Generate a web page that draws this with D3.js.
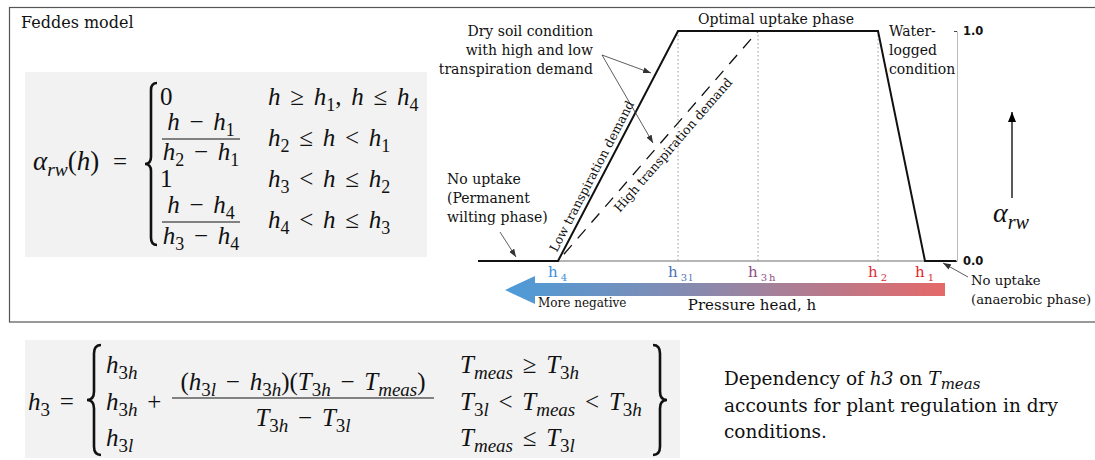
<!DOCTYPE html>
<html><head><meta charset="utf-8">
<script src="https://cdn.jsdelivr.net/npm/d3@7"></script>
<style>
html,body{margin:0;padding:0;background:#fff;}
svg{display:block;}
text{white-space:pre;}
</style></head><body>
<svg id="fig" width="1095" height="460"></svg>
<script>
// Feddes root-water-uptake reduction function, schematic pressure-head axis
const pressureHeads   = [0, 16, 40, 80, 89.4, 95.6];   // left end, h4, h3l, h2, h1, right end
const alphaLowDemand  = [0, 0, 1, 1, 0, 0];
const highDemandHeads = [16, 56];                        // h4 -> h3h
const alphaHighDemand = [0, 1];
const thresholdNames  = ["h", "h", "h", "h", "h"];
const thresholdSubs   = ["4", "3l", "3h", "2", "1"];
const thresholdHeads  = [16, 40, 56, 80, 89.4];
const thresholdColors = ["#3b8fdc", "#4c72b6", "#8a4d86", "#d92b3a", "#e5222c"];
const dottedHeads     = [40, 56, 80];
const alphaTicks      = [0, 1];
const alphaTickLabels = ["0.0", "1.0"];

const MATH  = "'Liberation Serif', 'Times New Roman', serif";
const SERIF = "'DejaVu Serif', serif";
const SANSB = "'DejaVu Sans', sans-serif";

const svg = d3.select("#fig");

const defs = svg.append("defs");
defs.append("marker").attr("id", "ah").attr("markerUnits", "userSpaceOnUse")
  .attr("markerWidth", 8).attr("markerHeight", 6).attr("refX", 8).attr("refY", 3)
  .attr("orient", "auto").append("path").attr("d", "M0,0 L8,3 L0,6 Z").attr("fill", "#333");
defs.append("marker").attr("id", "ahBig").attr("markerUnits", "userSpaceOnUse")
  .attr("markerWidth", 10).attr("markerHeight", 8).attr("refX", 10).attr("refY", 4)
  .attr("orient", "auto").append("path").attr("d", "M0,0 L10,4 L0,8 Z").attr("fill", "#000");
const grad = defs.append("linearGradient").attr("id", "headGrad")
  .attr("x1", "0%").attr("x2", "100%").attr("y1", "0%").attr("y2", "0%");
grad.append("stop").attr("offset", "0%").attr("stop-color", "#4c9bd8");
grad.append("stop").attr("offset", "45%").attr("stop-color", "#8a89ad");
grad.append("stop").attr("offset", "100%").attr("stop-color", "#e56969");

// ---------- math text helper ----------
function mathText(parent, x, y, src, size, opts = {}) {
  const t = parent.append("text").attr("x", x).attr("y", y)
    .attr("font-family", opts.family || MATH).attr("font-size", size)
    .attr("text-anchor", opts.anchor || "start").attr("fill", opts.color || "#111")
    .attr("word-spacing", opts.ws != null ? opts.ws : 3.5);
  const toks = [];
  for (let i = 0; i < src.length;) {
    const c = src[i];
    if (c === "_") {
      let g;
      if (src[i + 1] === "{") { const j = src.indexOf("}", i); g = src.slice(i + 2, j); i = j + 1; }
      else { g = src[i + 1]; i += 2; }
      for (const ch of g) toks.push({ s: ch, it: /[a-zA-Z]/.test(ch), sub: true });
      continue;
    }
    toks.push({ s: c, it: /[a-zA-Zα]/.test(c), sub: false });
    i++;
  }
  const groups = [];
  toks.forEach(k => {
    const last = groups[groups.length - 1];
    if (last && last.it === k.it && last.sub === k.sub) last.s += k.s;
    else groups.push({ ...k });
  });
  const shift = size * (opts.subShift || 0.24);
  let cur = false;
  groups.forEach(g => {
    const ts = t.append("tspan").text(g.s).attr("font-style", g.it ? "italic" : "normal");
    if (g.sub) ts.attr("font-size", size * (opts.subScale || 0.72));
    if (g.sub && !cur) ts.attr("dy", shift);
    if (!g.sub && cur) ts.attr("dy", -shift);
    cur = g.sub;
  });
  return t;
}
function fraction(parent, cx, yNum, yBar, yDen, num, den, size, halfW, opts = {}) {
  mathText(parent, cx, yNum, num, size, { anchor: "middle", ...opts });
  mathText(parent, cx, yDen, den, size, { anchor: "middle", ...opts });
  parent.append("line").attr("x1", cx - halfW).attr("x2", cx + halfW).attr("y1", yBar).attr("y2", yBar)
    .attr("stroke", "#111").attr("stroke-width", 1.2);
}
// curly brace: ends at xEnds, cusp at xCusp
function brace(parent, xEnds, xCusp, y0, y1) {
  const xm = (xEnds + xCusp) / 2, ym = (y0 + y1) / 2, q = Math.abs(xEnds - xCusp) * 0.6;
  const d = `M${xEnds},${y0} Q${xm},${y0} ${xm},${y0 + q} L${xm},${ym - q} Q${xm},${ym} ${xCusp},${ym}` +
            ` Q${xm},${ym} ${xm},${ym + q} L${xm},${y1 - q} Q${xm},${y1} ${xEnds},${y1}`;
  parent.append("path").attr("d", d).attr("fill", "none").attr("stroke", "#111").attr("stroke-width", 2.6);
}

// ---------- outer frame ----------
svg.append("rect").attr("x", 9.5).attr("y", 7.5).attr("width", 1100).attr("height", 314.5)
  .attr("fill", "none").attr("stroke", "#555").attr("stroke-width", 1.2);
svg.append("text").attr("x", 21).attr("y", 28).attr("font-family", SERIF).attr("font-size", 16)
  .attr("fill", "#111").text("Feddes model");

// ---------- formula 1 ----------
const f1 = svg.append("g");
f1.append("rect").attr("x", 25).attr("y", 72).attr("width", 402).attr("height", 185).attr("fill", "#f2f2f2");
mathText(f1, 33, 170, "α_{rw}(h)", 27);
mathText(f1, 113, 170, "=", 25);
brace(f1, 157, 145, 83, 245);
mathText(f1, 160, 105, "0", 25);
mathText(f1, 268, 105, "h ≥ h_1, h ≤ h_4", 25);
fraction(f1, 201, 130, 139, 160, "h − h_1", "h_2 − h_1", 25, 39);
mathText(f1, 268, 146, "h_2 ≤ h < h_1", 25);
mathText(f1, 160, 187, "1", 25);
mathText(f1, 268, 187, "h_3 < h ≤ h_2", 25);
fraction(f1, 201, 213, 222, 244, "h − h_4", "h_3 − h_4", 25, 39);
mathText(f1, 268, 228, "h_4 < h ≤ h_3", 25);

// ---------- Feddes curve ----------
const x = d3.scaleLinear().domain([0, 96]).range([478, 958]);
const y = d3.scaleLinear().domain([0, 1]).range([261, 31]);
const axisHead = 95.8;

const chart = svg.append("g");
// baseline from h4 to the axis
chart.append("line").attr("x1", x(thresholdHeads[0])).attr("x2", x(axisHead))
  .attr("y1", y(0)).attr("y2", y(0)).attr("stroke", "#b5b5b5").attr("stroke-width", 2);
// dotted guides
chart.selectAll("line.guide").data(dottedHeads).join("line").attr("class", "guide")
  .attr("x1", d => x(d)).attr("x2", d => x(d)).attr("y1", y(1)).attr("y2", y(0))
  .attr("stroke", "#9a9a9a").attr("stroke-width", 1).attr("stroke-dasharray", "1.5,2.5");
// alpha axis
const ax = chart.append("g").attr("transform", `translate(${x(axisHead)},0)`)
  .call(d3.axisRight(y).tickValues(alphaTicks).tickFormat((d, i) => alphaTickLabels[i])
    .tickSize(-3).tickSizeOuter(0).tickPadding(6));
ax.select(".domain").attr("stroke", "#bbbbbb");
ax.selectAll(".tick line").attr("stroke", "#444");
ax.selectAll(".tick text").attr("font-family", SANSB).attr("font-weight", "bold")
  .attr("font-size", 11.5).attr("fill", "#111");

const line = d3.line().x(d => x(d[0])).y(d => y(d[1]));
chart.append("path").datum(d3.zip(highDemandHeads, alphaHighDemand)).attr("d", line)
  .attr("fill", "none").attr("stroke", "#111").attr("stroke-width", 1.3)
  .attr("stroke-dasharray", "12,9").attr("stroke-dashoffset", 12);
chart.append("path").datum(d3.zip(pressureHeads, alphaLowDemand)).attr("d", line)
  .attr("fill", "none").attr("stroke", "#111").attr("stroke-width", 2).attr("stroke-linejoin", "miter");

// threshold labels
const lab = chart.selectAll("text.hlab").data(thresholdHeads).join("text").attr("class", "hlab")
  .attr("x", d => x(d) - 10).attr("y", 277).attr("font-family", SERIF).attr("font-size", 15)
  .attr("fill", (d, i) => thresholdColors[i]);
lab.append("tspan").text((d, i) => thresholdNames[i]);
lab.append("tspan").attr("dx", 3).attr("dy", 4).attr("font-size", 10).attr("letter-spacing", 2)
  .text((d, i) => thresholdSubs[i]);

// pressure head arrow
chart.append("path").attr("d", "M505,290 L535,276 L535,283 L945,283 L945,296 L535,296 L535,304 Z")
  .attr("fill", "url(#headGrad)");
chart.append("text").attr("x", 538).attr("y", 307).attr("font-family", SERIF).attr("font-size", 12)
  .attr("fill", "#111").text("More negative");
chart.append("text").attr("x", 752).attr("y", 310).attr("text-anchor", "middle").attr("font-family", SERIF)
  .attr("font-size", 15).attr("fill", "#111").text("Pressure head, h");

// annotations
function multiline(lines, xx, y0, dy, anchor, size) {
  const t = svg.append("text").attr("font-family", SERIF).attr("font-size", size || 14)
    .attr("fill", "#111").attr("text-anchor", anchor);
  lines.forEach((s, i) => t.append("tspan").attr("x", xx).attr("y", y0 + i * dy).text(s));
}
multiline(["Dry soil condition", "with high and low", "transpiration demand"], 593, 36, 19, "end");
multiline(["Optimal uptake phase"], 776, 24, 19, "middle");
multiline(["Water-", "logged", "condition"], 889, 36, 19, "start");
multiline(["No uptake", "(Permanent", "wilting phase)"], 447, 184, 19, "start");
multiline(["No uptake", "(anaerobic phase)"], 971, 285, 19, "start", 13.2);

function arrow(x1, y1, x2, y2) {
  svg.append("line").attr("x1", x1).attr("y1", y1).attr("x2", x2).attr("y2", y2)
    .attr("stroke", "#333").attr("stroke-width", 0.8).attr("marker-end", "url(#ah)");
}
arrow(602, 55, 651, 73);
arrow(602, 55, 653, 143);
arrow(500, 232, 516, 257);
arrow(968, 277, 943, 263);

// rotated labels along the two dry-side limbs
function alongLimb(h0, h1v, a, offset, label) {
  const p0 = [x(h0), y(0)], p1 = [x(h1v), y(1)];
  const ang = Math.atan2(p1[1] - p0[1], p1[0] - p0[0]);
  const px = p0[0] + (p1[0] - p0[0]) * a, py = p0[1] + (p1[1] - p0[1]) * a;
  const nx = Math.sin(ang), ny = -Math.cos(ang);
  const cx = px - nx * offset, cy = py - ny * offset;
  svg.append("text").attr("transform", `translate(${cx},${cy}) rotate(${ang * 180 / Math.PI})`)
    .attr("text-anchor", "middle").attr("font-family", SERIF).attr("font-size", 12.5)
    .attr("fill", "#111").text(label);
}
alongLimb(pressureHeads[1], pressureHeads[2], 0.35, -5, "Low transpiration demand");
alongLimb(highDemandHeads[0], highDemandHeads[1], 0.535, 15, "High transpiration demand");

// alpha_rw axis arrow
svg.append("line").attr("x1", 1012).attr("y1", 198).attr("x2", 1012).attr("y2", 112)
  .attr("stroke", "#000").attr("stroke-width", 1.3).attr("marker-end", "url(#ahBig)");
mathText(svg, 993, 222, "α_{rw}", 28);

// ---------- formula 2 ----------
const f2 = svg.append("g");
const o2 = { subScale: 0.76 };
f2.append("rect").attr("x", 25).attr("y", 340).attr("width", 655).attr("height", 118).attr("fill", "#f2f2f2");
mathText(f2, 28, 410, "h_3 =", 25, o2);
brace(f2, 101, 87, 345, 455);
mathText(f2, 106, 373, "h_{3h}", 25, o2);
mathText(f2, 106, 410, "h_{3h} +", 25, o2);
fraction(f2, 303, 390, 398, 426, "(h_{3l} − h_{3h})(T_{3h} − T_{meas})", "T_{3h} − T_{3l}", 25, 131, o2);
mathText(f2, 106, 446, "h_{3l}", 25, o2);
mathText(f2, 460, 373, "T_{meas} ≥ T_{3h}", 25, o2);
mathText(f2, 460, 410, "T_{3l} < T_{meas} < T_{3h}", 25, o2);
mathText(f2, 460, 446, "T_{meas} ≤ T_{3l}", 25, o2);
brace(f2, 653, 667, 345, 455);

// ---------- side note ----------
const note = svg.append("text").attr("font-family", SERIF).attr("font-size", 18.5).attr("fill", "#111");
const l1 = note.append("tspan").attr("x", 724).attr("y", 385);
l1.append("tspan").text("Dependency of ");
l1.append("tspan").attr("font-style", "italic").text("h3");
l1.append("tspan").text(" on ");
l1.append("tspan").attr("font-style", "italic").text("T");
l1.append("tspan").attr("font-style", "italic").attr("font-size", 15).attr("dy", 4).text("meas");
note.append("tspan").attr("x", 724).attr("y", 412).text("accounts for plant regulation in dry");
note.append("tspan").attr("x", 724).attr("y", 438).text("conditions.");
</script>
</body></html>
